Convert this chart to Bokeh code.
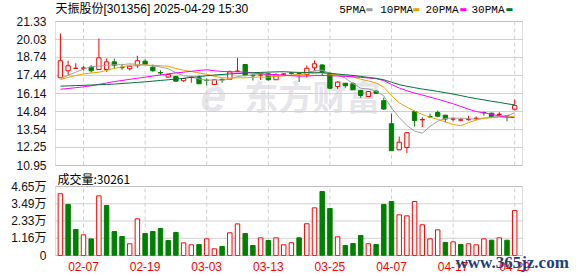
from bokeh.plotting import figure
from bokeh.models import Range1d, FixedTicker, Label, BoxAnnotation
from bokeh.core.properties import value
from bokeh.embed import file_html
from bokeh.resources import INLINE

dates = ["01-27", "02-05", "02-06", "02-07", "02-10", "02-11", "02-12", "02-13", "02-14", "02-17",
         "02-18", "02-19", "02-20", "02-21", "02-24", "02-25", "02-26", "02-27", "02-28", "03-03",
         "03-04", "03-05", "03-06", "03-07", "03-10", "03-11", "03-12", "03-13", "03-14", "03-17",
         "03-18", "03-19", "03-20", "03-21", "03-24", "03-25", "03-26", "03-27", "03-28", "03-31",
         "04-01", "04-02", "04-03", "04-07", "04-08", "04-09", "04-10", "04-11", "04-14", "04-15",
         "04-16", "04-17", "04-18", "04-21", "04-22", "04-23", "04-24", "04-25", "04-28", "04-29"]

opens = [17.27, 17.78, 17.95, 17.96, 18.04, 17.87, 17.87, 18.42, 18.03, 17.92,
         18.14, 18.47, 18.04, 17.65, 17.32, 17.37, 17.06, 17.30, 17.27, 17.10,
         16.79, 17.16, 17.17, 17.73, 18.23, 17.45, 17.47, 17.56, 17.13, 17.53,
         17.62, 17.58, 17.51, 17.99, 18.20, 17.60, 16.65, 16.88, 16.84, 16.36,
         15.92, 16.30, 15.62, 13.96, 12.08, 12.25, 14.84, 14.24, 14.48, 14.77,
         14.58, 14.29, 14.22, 14.25, 14.34, 14.77, 14.72, 14.63, 14.55, 15.01]
highs = [20.47, 18.50, 18.32, 18.11, 18.18, 20.10, 18.66, 18.66, 18.28, 18.13,
         18.86, 18.60, 18.23, 17.80, 17.55, 17.40, 17.25, 17.39, 17.44, 17.22,
         17.18, 17.22, 17.80, 18.71, 18.25, 17.56, 17.60, 17.56, 17.60, 17.60,
         17.66, 17.62, 18.16, 18.52, 18.25, 17.62, 17.03, 16.90, 16.95, 16.38,
         16.30, 16.40, 15.85, 14.68, 13.04, 13.35, 14.90, 14.43, 14.68, 14.91,
         14.60, 14.43, 14.38, 14.53, 14.48, 14.84, 14.76, 14.79, 14.58, 15.70]
lows = [17.27, 17.46, 17.93, 17.80, 17.65, 17.85, 17.70, 17.94, 17.85, 17.80,
        18.00, 18.20, 17.71, 17.46, 17.30, 17.00, 16.98, 16.92, 16.84, 16.72,
        16.75, 16.91, 17.17, 17.68, 17.37, 17.08, 17.13, 17.08, 17.13, 17.45,
        17.50, 16.96, 17.30, 17.75, 17.40, 16.45, 16.48, 16.55, 16.41, 15.83,
        15.90, 16.10, 14.97, 12.02, 12.05, 11.84, 13.76, 13.71, 14.39, 14.43,
        14.07, 14.14, 14.14, 14.19, 14.24, 14.55, 14.45, 14.48, 14.14, 14.91]
closes = [18.50, 18.14, 17.96, 17.98, 17.78, 18.71, 18.42, 18.18, 18.00, 18.11,
          18.50, 18.25, 17.78, 17.62, 17.51, 17.03, 17.22, 17.32, 16.84, 17.08,
          17.13, 17.12, 17.70, 17.76, 17.44, 17.42, 17.49, 17.13, 17.49, 17.55,
          17.60, 17.56, 17.96, 18.28, 17.72, 16.52, 16.96, 16.70, 16.41, 16.00,
          16.28, 16.15, 15.02, 12.02, 12.63, 13.31, 14.19, 14.27, 14.45, 14.50,
          14.30, 14.31, 14.24, 14.27, 14.36, 14.75, 14.46, 14.65, 14.53, 15.27]
volumes = [41600, 34400, 17500, 13900, 11200, 40200, 33700, 16200, 12800, 7900,
           24700, 14800, 16200, 18200, 10100, 15500, 8500, 7200, 7400, 11200,
           4500, 6100, 15300, 21300, 14800, 6700, 11900, 10100, 11900, 7200,
           8600, 11900, 21400, 32100, 43100, 31700, 12600, 6700, 8100, 13500,
           7900, 7400, 34400, 36400, 27400, 26700, 36400, 20700, 11200, 17300,
           8800, 9200, 7400, 7900, 7200, 11200, 10300, 11900, 10300, 30261]

ma5 = [17.22, 17.45, 17.68, 17.90, 18.07, 18.11, 18.17, 18.21, 18.22, 18.28,
       18.24, 18.21, 18.13, 18.05, 17.93, 17.64, 17.43, 17.34, 17.18, 17.10,
       17.12, 17.10, 17.18, 17.36, 17.43, 17.49, 17.56, 17.45, 17.39, 17.42,
       17.45, 17.47, 17.63, 17.79, 17.82, 17.61, 17.49, 17.24, 16.86, 16.52,
       16.47, 16.31, 15.97, 15.09, 14.42, 13.83, 13.43, 13.28, 13.77, 14.14,
       14.35, 14.37, 14.36, 14.32, 14.29, 14.37, 14.42, 14.50, 14.55, 14.73]
ma10 = [17.15, 17.30, 17.44, 17.55, 17.62, 17.67, 17.81, 17.95, 18.06, 18.18,
        18.18, 18.19, 18.17, 18.14, 18.11, 17.94, 17.82, 17.73, 17.62, 17.52,
        17.38, 17.27, 17.26, 17.27, 17.27, 17.30, 17.33, 17.31, 17.38, 17.42,
        17.47, 17.51, 17.54, 17.59, 17.62, 17.53, 17.48, 17.43, 17.33, 17.17,
        17.04, 16.90, 16.60, 15.98, 15.47, 15.15, 14.87, 14.63, 14.43, 14.28,
        14.09, 13.90, 13.82, 14.04, 14.22, 14.36, 14.39, 14.43, 14.43, 14.51]
ma20 = [16.45, 16.50, 16.56, 16.62, 16.70, 16.80, 16.90, 17.00, 17.08, 17.16,
        17.24, 17.32, 17.40, 17.48, 17.56, 17.62, 17.68, 17.74, 17.80, 17.85,
        17.78, 17.73, 17.71, 17.70, 17.69, 17.62, 17.58, 17.52, 17.50, 17.47,
        17.42, 17.39, 17.40, 17.43, 17.44, 17.42, 17.40, 17.37, 17.35, 17.30,
        17.26, 17.21, 17.07, 16.79, 16.54, 16.34, 16.17, 16.03, 15.88, 15.73,
        15.56, 15.40, 15.21, 15.01, 14.84, 14.75, 14.63, 14.53, 14.43, 14.40]
ma30 = [16.67, 16.69, 16.71, 16.73, 16.75, 16.77, 16.79, 16.82, 16.86, 16.90,
        16.94, 16.98, 17.03, 17.08, 17.13, 17.18, 17.24, 17.30, 17.36, 17.42,
        17.47, 17.51, 17.55, 17.58, 17.61, 17.64, 17.66, 17.68, 17.70, 17.71,
        17.68, 17.66, 17.66, 17.67, 17.66, 17.59, 17.54, 17.49, 17.44, 17.37,
        17.30, 17.23, 17.13, 16.95, 16.78, 16.66, 16.56, 16.46, 16.38, 16.29,
        16.20, 16.10, 15.99, 15.87, 15.77, 15.68, 15.58, 15.50, 15.40, 15.32]

price_ticks = [10.95, 12.25, 13.54, 14.84, 16.14, 17.44, 18.74, 20.03, 21.33]
vol_ticks = [0, 11625, 23250, 34875, 46500]
vol_tick_labels = ["0", "1.16万", "2.33万", "3.49万", "4.65万"]
date_labels = ["02-07", "02-19", "03-03", "03-13", "03-25", "04-07", "04-17", "04-29"]
title_text = "天振股份[301356] 2025-04-29 15:30"
vol_title = "成交量:30261"
ma_names = ["5PMA", "10PMA", "20PMA", "30PMA"]

# ---------------- layout (pixels) ----------------
W, H = 578, 276
FRAME_LEFT = 54                     # figure frame starts here; axis labels to its left
PANEL_LEFT, PANEL_RIGHT = 55, 522   # both panels' boxes
PRICE_TOP, PRICE_BOT = 21, 165
VOL_TOP, VOL_BOT = 186, 255
X0, STEP = 59.9, 7.7                # pixel of first candle, pixels per candle

RED = "#ff0000"
GREEN = "#008000"
MA_COLORS = ["#a0a0a0", "#f0a000", "#ff00ff", "#00703c"]
GRID = "#d0d0d0"
FRAME = "#999999"
FONT = "'Liberation Sans', 'Noto Sans CJK SC'"

n = len(closes)
xs = list(range(n))
date_idx = [dates.index(d) for d in date_labels]


def px_to_idx(px):
    return (px - X0) / STEP


p_lo, p_hi = price_ticks[0], price_ticks[-1]
p_per_px = (p_hi - p_lo) / (PRICE_BOT - PRICE_TOP)
price_range = Range1d(p_hi - (H - PRICE_TOP) * p_per_px, p_hi + PRICE_TOP * p_per_px)
v_lo, v_hi = vol_ticks[0], vol_ticks[-1]
v_per_px = (v_hi - v_lo) / (VOL_BOT - VOL_TOP)
vol_range = Range1d(v_lo - (H - VOL_BOT) * v_per_px, v_lo + VOL_BOT * v_per_px)


def price_px(v):
    return round(PRICE_TOP + (p_hi - v) / p_per_px, 3)


def vol_px(v):
    return round(VOL_BOT - (v - v_lo) / v_per_px, 3)


up = [c >= o for o, c in zip(opens, closes)]
vol_up = [closes[i] > (closes[i - 1] if i > 0 else opens[i]) for i in range(n)]
cndl_color = [RED if u else GREEN for u in up]
cndl_fill = ["#ffffff" if u else GREEN for u in up]
body_top = [max(o, c) for o, c in zip(opens, closes)]
body_bot = [min(o, c) for o, c in zip(opens, closes)]
vol_color = [RED if u else GREEN for u in vol_up]
vol_fill = ["#ffffff" if u else GREEN for u in vol_up]

L_IDX, R_IDX = px_to_idx(PANEL_LEFT), px_to_idx(PANEL_RIGHT)

p = figure(width=W, height=H,
           x_range=Range1d(px_to_idx(FRAME_LEFT), px_to_idx(W)),
           y_range=Range1d(H, 0),            # default y axis = pixel rows, for the tick labels
           x_axis_location=None, y_axis_location="left",
           output_backend="svg", toolbar_location=None,
           min_border_left=FRAME_LEFT, min_border_right=0, min_border_top=0, min_border_bottom=0)
p.extra_y_ranges = {"price": price_range, "vol": vol_range}
p.outline_line_color = None
p.grid.visible = False
p.background_fill_color = "#ffffff"
p.border_fill_color = "#ffffff"

# y axis: price and volume tick labels at their grid rows
axis_pos = [price_px(t) for t in price_ticks] + [vol_px(t) for t in vol_ticks]
axis_lab = [f"{t:.2f}" for t in price_ticks] + vol_tick_labels
p.yaxis.ticker = FixedTicker(ticks=axis_pos, minor_ticks=[])
p.yaxis.major_label_overrides = dict(zip(axis_pos, axis_lab))
p.yaxis.axis_line_color = None
p.yaxis.major_tick_line_color = None
p.yaxis.minor_tick_line_color = None
p.yaxis.major_label_standoff = 2
p.yaxis.major_label_text_font = FONT
p.yaxis.major_label_text_font_size = "12px"
p.yaxis.major_label_text_color = "#111111"

# watermark
p.add_layout(Label(x=146, y=H - 95, x_units="screen", y_units="screen", text="e",
                   text_font="Liberation Sans", text_font_style="bold italic",
                   text_font_size="46px", text_color="#e6e6ea", text_baseline="middle",
                   level="underlay"))
p.add_layout(Label(x=190, y=H - 95, x_units="screen", y_units="screen", text="东方财富",
                   text_font="Noto Sans CJK SC", text_font_style="bold",
                   text_font_size="34px", text_color="#e6e6ea", text_baseline="middle",
                   level="underlay"))

# grids
p.segment(x0=[L_IDX] * len(price_ticks), y0=price_ticks, x1=[R_IDX] * len(price_ticks), y1=price_ticks,
          line_color=GRID, line_width=1, y_range_name="price")
p.segment(x0=[L_IDX] * len(vol_ticks), y0=vol_ticks, x1=[R_IDX] * len(vol_ticks), y1=vol_ticks,
          line_color=GRID, line_width=1, y_range_name="vol")
p.segment(x0=date_idx, y0=[p_lo] * len(date_idx), x1=date_idx, y1=[p_hi] * len(date_idx),
          line_color=GRID, line_width=1, line_dash="4 3", y_range_name="price")
p.segment(x0=date_idx, y0=[v_lo] * len(date_idx), x1=date_idx, y1=[v_hi] * len(date_idx),
          line_color=GRID, line_width=1, line_dash="4 3", y_range_name="vol")

# candles
p.segment(x0=xs, y0=highs, x1=xs, y1=lows, line_color=cndl_color, line_width=1, y_range_name="price")
p.vbar(x=xs, width=0.56, top=body_top, bottom=body_bot,
       fill_color=cndl_fill, line_color=cndl_color, line_width=1, y_range_name="price")

for ma, col in zip([ma5, ma10, ma20, ma30], MA_COLORS):
    p.line(xs, ma, line_color=col, line_width=1, y_range_name="price")

# volume
p.vbar(x=xs, width=0.58, top=volumes, bottom=0,
       fill_color=vol_fill, line_color=vol_color, line_width=1, y_range_name="vol")

# panel boxes
p.add_layout(BoxAnnotation(left=L_IDX, right=R_IDX, bottom=p_lo, top=p_hi, y_range_name="price",
                           fill_alpha=0, line_color=FRAME, line_width=1))
p.add_layout(BoxAnnotation(left=L_IDX, right=R_IDX, bottom=v_lo, top=v_hi, y_range_name="vol",
                           fill_alpha=0, line_color=FRAME, line_width=1))

# date labels under the volume panel
p.text(x=date_idx, y=[VOL_BOT + 11] * len(date_idx), text=date_labels,
       text_align="center", text_baseline="middle", text_color=RED,
       text_font=value("Liberation Sans"), text_font_size="12px")


# header texts
def sx(px):
    return px - FRAME_LEFT


def sy(py):
    return H - py


p.add_layout(Label(x=sx(55), y=sy(8), x_units="screen", y_units="screen", text=title_text,
                   text_font=FONT, text_font_size="12px", text_color="#000000",
                   text_baseline="middle"))
legend_text_px = [338.7, 379.7, 425, 471]
legend_dash_px = [365, 412, 459, 505]
for name, col, tx, dx in zip(ma_names, MA_COLORS, legend_text_px, legend_dash_px):
    p.add_layout(Label(x=sx(tx), y=sy(9), x_units="screen", y_units="screen", text=name,
                       text_font="Liberation Mono", text_font_size="11px",
                       text_color="#000000", text_baseline="middle"))
    p.add_layout(Label(x=sx(dx), y=sy(9), x_units="screen", y_units="screen", text="▬",
                       text_font="DejaVu Sans", text_font_size="8px",
                       text_color=col, text_baseline="middle"))

p.add_layout(Label(x=sx(57), y=sy(178), x_units="screen", y_units="screen", text=vol_title,
                   text_font="Noto Sans CJK SC", text_font_size="12px", text_color="#000000",
                   text_baseline="middle"))
p.add_layout(Label(x=sx(455), y=sy(261.5), x_units="screen", y_units="screen", text="www.365jz.com",
                   text_font="Liberation Serif", text_font_size="17px", text_font_style="bold",
                   text_color="#233f78", text_baseline="middle"))

open("out.html", "w").write(file_html(p, INLINE))
